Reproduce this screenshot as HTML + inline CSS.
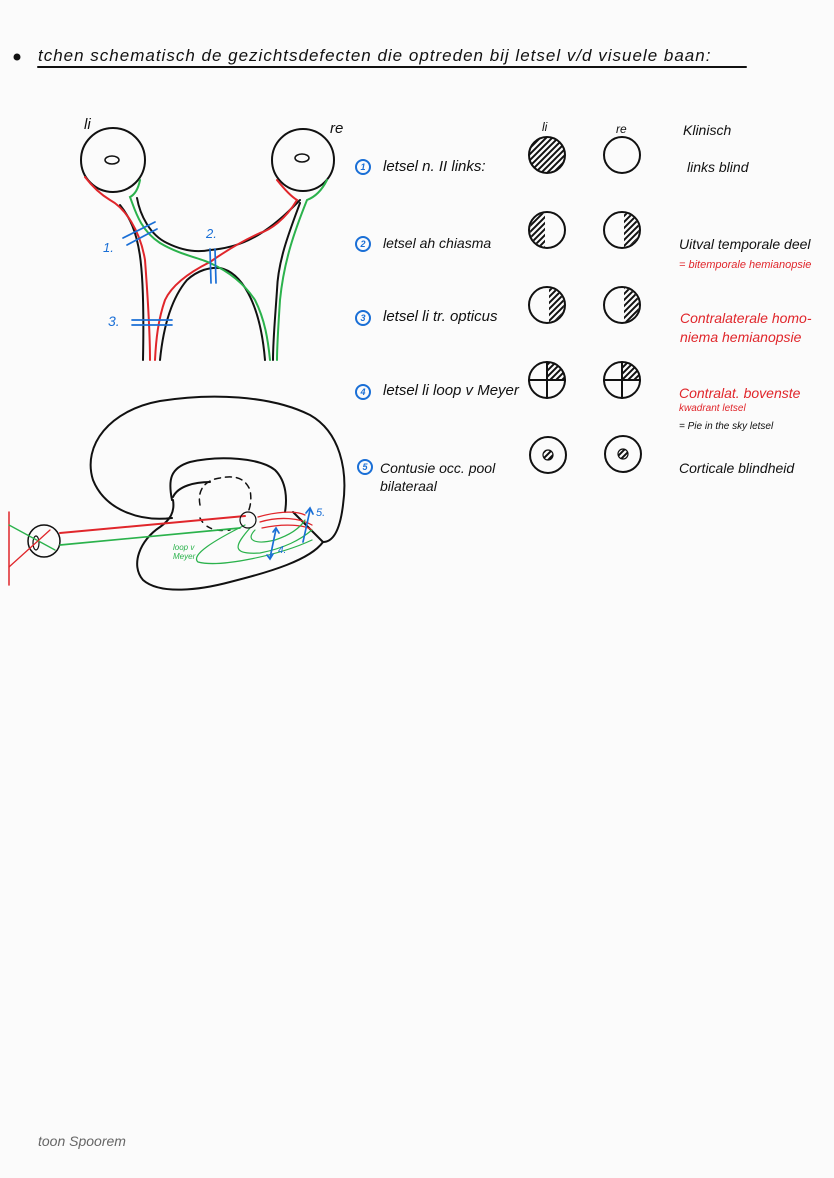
<!DOCTYPE html>
<html><head><meta charset="utf-8"><style>
html,body{margin:0;padding:0;background:#fbfbfb;}
body{width:834px;height:1178px;position:relative;overflow:hidden;font-family:"Liberation Sans",sans-serif;font-style:italic;}
.t{position:absolute;white-space:nowrap;color:#111;}
.r{color:#e0262b;}
.b{color:#1a6fd6;}
</style></head><body>
<svg width="834" height="1178" style="position:absolute;left:0;top:0" fill="none" stroke-linecap="round">
<defs>
<pattern id="h" width="6" height="6" patternUnits="userSpaceOnUse"><path d="M0 6 L6 0 M-1 1 L1 -1 M5 7 L7 5" stroke="#111" stroke-width="2"/></pattern>
<clipPath id="c2l"><rect x="529" y="212" width="16" height="36"/></clipPath>
<clipPath id="c2r"><rect x="624" y="212" width="18" height="36"/></clipPath>
<clipPath id="c3l"><rect x="549" y="287" width="18" height="36"/></clipPath>
<clipPath id="c3r"><rect x="624" y="287" width="18" height="36"/></clipPath>
</defs>
<circle cx="17" cy="57" r="3.5" fill="#111"/>
<line x1="38" y1="67" x2="746" y2="67" stroke="#111" stroke-width="2"/>
<!-- eyes -->
<circle cx="113" cy="160" r="32" stroke="#111" stroke-width="2"/>
<ellipse cx="112" cy="160" rx="7" ry="4" stroke="#111" stroke-width="1.5"/>
<circle cx="303" cy="160" r="31" stroke="#111" stroke-width="2"/>
<ellipse cx="302" cy="158" rx="7" ry="4" stroke="#111" stroke-width="1.5"/>
<!-- black -->
<g stroke="#111" stroke-width="2">
<path d="M120 205 C140 230 145 260 143 360"/>
<path d="M137 198 C140 215 150 235 167 243 C185 252 200 252 210 250 C235 248 260 240 293 207 L300 200"/>
<path d="M300 203 C290 230 278 260 277 290 C275 320 273 340 273 360"/>
<path d="M160 360 C163 330 170 300 187 280 C198 270 210 267 220 268 C240 272 260 300 265 360"/>
</g>
<!-- red -->
<g stroke="#e0262b" stroke-width="2">
<path d="M85 177 C95 190 105 197 110 200 C125 208 140 230 145 260 C148 300 150 330 150 360"/>
<path d="M277 180 C285 190 292 197 297 200 C285 220 270 230 260 233 C240 242 220 255 210 262 C190 272 172 285 165 300 C158 320 156 340 155 360"/>
</g>
<!-- green -->
<g stroke="#2bb24c" stroke-width="2">
<path d="M140 180 C138 190 134 195 130 197 C135 210 140 230 160 243 C180 255 200 258 210 263 C230 272 245 285 255 300 C265 320 268 340 270 360"/>
<path d="M327 180 C322 190 315 197 307 200 C295 230 284 260 280 300 C278 330 277 345 277 360"/>
</g>
<!-- blue marks -->
<g stroke="#1a6fd6" stroke-width="1.7">
<line x1="123" y1="238" x2="155" y2="222"/><line x1="127" y1="245" x2="157" y2="229"/>
<line x1="210" y1="249" x2="211" y2="283"/><line x1="215" y1="249" x2="216" y2="283"/>
<line x1="132" y1="320" x2="172" y2="320"/><line x1="132" y1="325" x2="172" y2="325"/>
</g>
<!-- brain -->
<g stroke="#111" stroke-width="2">
<path d="M172 518 C140 522 105 510 93 480 C82 445 110 410 160 401 C210 393 270 395 310 415 C340 432 348 470 343 505 C340 530 333 542 323 542"/>
<path d="M293 512 L323 542 C310 560 270 572 230 582 C200 590 160 595 143 580 C130 565 140 540 160 527 C170 520 175 512 173 500"/>
<path d="M172 500 C168 480 170 468 190 462 C220 455 260 458 275 470 C287 482 287 500 285 512"/>
<path d="M173 497 C178 486 195 482 210 482"/>
</g>
<path d="M200 505 C197 490 205 480 220 478 C235 475 245 478 250 490 C252 500 250 508 248 512" stroke="#111" stroke-width="1.5" stroke-dasharray="6 5"/>
<path d="M200 518 C205 528 215 532 230 530" stroke="#111" stroke-width="1.5" stroke-dasharray="5 6"/>
<!-- eye bottom-left -->
<line x1="9" y1="512" x2="9" y2="585" stroke="#e0262b" stroke-width="1.5"/>
<circle cx="44" cy="541" r="16" stroke="#111" stroke-width="1.5"/>
<ellipse cx="36" cy="543" rx="3" ry="7" stroke="#111" stroke-width="1.2"/>
<path d="M9 525 L55 550" stroke="#2bb24c" stroke-width="1.3"/>
<path d="M9 567 L50 530" stroke="#e0262b" stroke-width="1.3"/>
<path d="M60 533 L245 516" stroke="#e0262b" stroke-width="2"/>
<path d="M258 517 C275 512 295 510 305 515 M260 522 C280 516 300 518 312 525 M262 528 C285 523 305 525 312 530" stroke="#e0262b" stroke-width="1.3"/>
<path d="M60 545 L240 528" stroke="#2bb24c" stroke-width="1.7"/>
<g stroke="#2bb24c" stroke-width="1.2">
<path d="M245 525 C215 540 190 555 198 562 C220 568 280 555 312 540"/>
<path d="M250 528 C235 545 230 555 260 553 C285 548 300 540 312 530"/>
<path d="M255 530 C245 540 255 545 275 540 C290 535 300 528 305 520"/>
</g>
<circle cx="248" cy="520" r="8" stroke="#111" stroke-width="1.2"/>
<g stroke="#1a6fd6" stroke-width="1.7">
<line x1="276" y1="529" x2="270" y2="558"/><path d="M273 532 L276 528 L279 533"/><path d="M267 555 L270 559 L273 554"/>
<line x1="310" y1="510" x2="303" y2="542"/><path d="M306 513 L310 508 L313 514"/>
</g>
<!-- field circles -->
<g stroke="#111" stroke-width="2">
<circle cx="547" cy="155" r="18" fill="url(#h)"/>
<circle cx="622" cy="155" r="18"/>
<circle cx="547" cy="230" r="18"/><circle cx="547" cy="230" r="17" fill="url(#h)" stroke="none" clip-path="url(#c2l)"/>
<circle cx="622" cy="230" r="18"/><circle cx="622" cy="230" r="17" fill="url(#h)" stroke="none" clip-path="url(#c2r)"/>
<circle cx="547" cy="305" r="18"/><circle cx="547" cy="305" r="17" fill="url(#h)" stroke="none" clip-path="url(#c3l)"/>
<circle cx="622" cy="305" r="18"/><circle cx="622" cy="305" r="17" fill="url(#h)" stroke="none" clip-path="url(#c3r)"/>
<path d="M547 380 L547 362 A18 18 0 0 1 565 380 Z" fill="url(#h)" stroke="none"/>
<circle cx="547" cy="380" r="18"/><line x1="547" y1="362" x2="547" y2="398"/><line x1="529" y1="380" x2="565" y2="380"/>
<path d="M622 380 L622 362 A18 18 0 0 1 640 380 Z" fill="url(#h)" stroke="none"/>
<circle cx="622" cy="380" r="18"/><line x1="622" y1="362" x2="622" y2="398"/><line x1="604" y1="380" x2="640" y2="380"/>
<circle cx="548" cy="455" r="18"/><circle cx="548" cy="455" r="5" fill="url(#h)" stroke-width="1.2"/>
<circle cx="623" cy="454" r="18"/><circle cx="623" cy="454" r="5" fill="url(#h)" stroke-width="1.2"/>
</g>
<g stroke="#1a6fd6" stroke-width="2"><circle cx="363" cy="167" r="7"/><circle cx="363" cy="244" r="7"/><circle cx="363" cy="318" r="7"/><circle cx="363" cy="392" r="7"/><circle cx="365" cy="467" r="7"/></g>
<g fill="#1a6fd6" font-family="Liberation Sans" font-size="9" font-weight="bold" text-anchor="middle">
<text x="363" y="170">1</text><text x="363" y="247">2</text><text x="363" y="321">3</text><text x="363" y="395">4</text><text x="365" y="470">5</text></g>
</svg>
<div class="t" style="left:38px;top:46px;font-size:17px;letter-spacing:1px">tchen schematisch de gezichtsdefecten die optreden bij letsel v/d visuele baan:</div>
<div class="t" style="left:84px;top:116px;font-size:15px">li</div>
<div class="t" style="left:330px;top:120px;font-size:15px">re</div>
<div class="t b" style="left:103px;top:240px;font-size:13px">1.</div>
<div class="t b" style="left:206px;top:226px;font-size:13px">2.</div>
<div class="t b" style="left:108px;top:313px;font-size:14px">3.</div>
<div class="t b" style="left:316px;top:507px;font-size:11px">5.</div>
<div class="t b" style="left:278px;top:545px;font-size:10px">4.</div>
<div class="t" style="left:173px;top:543px;font-size:8px;color:#2bb24c">loop v<br>Meyer</div>
<div class="t" style="left:542px;top:120px;font-size:12px">li</div>
<div class="t" style="left:616px;top:122px;font-size:12px">re</div>
<div class="t" style="left:683px;top:122px;font-size:14px">Klinisch</div>
<div class="t" style="left:383px;top:158px;font-size:15px">letsel n. II links:</div>
<div class="t" style="left:687px;top:159px;font-size:14px">links blind</div>
<div class="t" style="left:383px;top:235px;font-size:14px">letsel ah chiasma</div>
<div class="t" style="left:679px;top:236px;font-size:14px">Uitval temporale deel</div>
<div class="t r" style="left:679px;top:259px;font-size:11px">= bitemporale hemianopsie</div>
<div class="t" style="left:383px;top:308px;font-size:15px">letsel li tr. opticus</div>
<div class="t r" style="left:680px;top:310px;font-size:14px">Contralaterale homo-</div>
<div class="t r" style="left:680px;top:329px;font-size:14px">niema hemianopsie</div>
<div class="t" style="left:383px;top:382px;font-size:15px">letsel li loop v Meyer</div>
<div class="t r" style="left:679px;top:385px;font-size:14px">Contralat. bovenste</div>
<div class="t r" style="left:679px;top:403px;font-size:10px">kwadrant letsel</div>
<div class="t" style="left:679px;top:421px;font-size:10px">= Pie in the sky letsel</div>
<div class="t" style="left:380px;top:460px;font-size:14px">Contusie occ. pool</div>
<div class="t" style="left:380px;top:478px;font-size:14px">bilateraal</div>
<div class="t" style="left:679px;top:460px;font-size:14px">Corticale blindheid</div>
<div class="t" style="left:38px;top:1133px;font-size:14px;color:#666">toon Spoorem</div>
</body></html>
